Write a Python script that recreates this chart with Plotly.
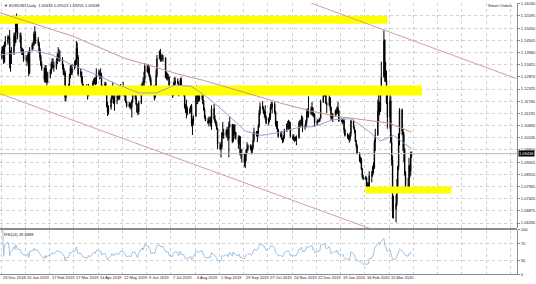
import plotly.graph_objects as go
import pandas as pd

W, H = 536, 284

# ---------------- data (EURUSD daily, weekday bars) ----------------
FIRST_DAY, LAST_DAY = "2018-12-21", "2020-04-10"
FIRST_OPEN = 1.1375
LAST_OPEN = 1.09434

CLOSE = [1.1370,
 1.1405,1.1420,1.1355,1.1430,1.1440,
 1.1466,1.1460,1.1345,1.1390,1.1395,
 1.1470,1.1440,1.1540,1.1500,1.1468,
 1.1470,1.1415,1.1395,1.1390,1.1365,
 1.1365,1.1365,1.1385,1.1305,1.1410,
 1.1430,1.1430,1.1480,1.1445,1.1455,
 1.1435,1.1405,1.1375,1.1340,1.1325,
 1.1275,1.1325,1.1265,1.1295,1.1295,
 1.1310,1.1345,1.1340,1.1335,1.1330,
 1.1360,1.1385,1.1370,1.1370,1.1365,
 1.1340,1.1305,1.1305,1.1195,1.1235,
 1.1245,1.1285,1.1325,1.1305,1.1325,
 1.1340,1.1350,1.1415,1.1375,1.1300,
 1.1310,1.1265,1.1250,1.1225,1.1218,
 1.1215,1.1205,1.1235,1.1220,1.1215,
 1.1260,1.1265,1.1275,1.1255,1.1300,
 1.1305,1.1285,1.1295,1.1235,1.1245,
 1.1255,1.1225,1.1155,1.1130,1.1150,
 1.1185,1.1215,1.1195,1.1170,1.1200,
 1.1200,1.1190,1.1195,1.1215,1.1235,
 1.1225,1.1205,1.1205,1.1175,1.1155,
 1.1165,1.1160,1.1150,1.1180,1.1205,
 1.1195,1.1165,1.1130,1.1130,1.1170,
 1.1240,1.1250,1.1225,1.1275,1.1335,
 1.1310,1.1325,1.1290,1.1275,1.1210,
 1.1220,1.1195,1.1225,1.1295,1.1370,
 1.1400,1.1365,1.1370,1.1370,1.1370,
 1.1285,1.1285,1.1285,1.1285,1.1225,
 1.1215,1.1205,1.1250,1.1255,1.1270,
 1.1260,1.1210,1.1225,1.1275,1.1220,
 1.1210,1.1150,1.1140,1.1145,1.1125,
 1.1140,1.1155,1.1075,1.1085,1.1110,
 1.1200,1.1200,1.1200,1.1180,1.1200,
 1.1215,1.1170,1.1140,1.1105,1.1090,
 1.1080,1.1095,1.1085,1.1080,1.1145,
 1.1100,1.1090,1.1075,1.1055,1.0985,
 1.0965,1.0975,1.1035,1.1035,1.1025,
 1.1045,1.1045,1.1010,1.1065,1.1075,
 1.1000,1.1070,1.1030,1.1040,1.1015,
 1.0990,1.1020,1.0940,1.0940,1.0940,
 1.0900,1.0935,1.0960,1.0965,1.0980,
 1.0970,1.0955,1.0970,1.1005,1.1040,
 1.1030,1.1035,1.1070,1.1125,1.1155,
 1.1150,1.1125,1.1130,1.1105,1.1080,
 1.1100,1.1110,1.1150,1.1150,1.1165,
 1.1130,1.1075,1.1065,1.1050,1.1020,
 1.1030,1.1010,1.1005,1.1020,1.1050,
 1.1075,1.1075,1.1075,1.1055,1.1020,
 1.1010,1.1015,1.1010,1.1010,1.1015,
 1.1080,1.1080,1.1080,1.1105,1.1060,
 1.1065,1.1090,1.1130,1.1130,1.1120,
 1.1145,1.1150,1.1115,1.1120,1.1080,
 1.1090,1.1090,1.1090,1.1100,1.1175,
 1.1200,1.1213,1.1210,1.1170,1.1160,
 1.1195,1.1150,1.1105,1.1105,1.1120,
 1.1135,1.1125,1.1150,1.1135,1.1090,
 1.1095,1.1085,1.1090,1.1050,1.1025,
 1.1020,1.1020,1.1010,1.1035,1.1090,
 1.1060,1.1045,1.1000,1.0980,1.0945,
 1.0910,1.0915,1.0875,1.0840,1.0830,
 1.0835,1.0790,1.0805,1.0790,1.0845,
 1.0850,1.0880,1.0880,1.0995,1.1025,
 1.1135,1.1175,1.1135,1.1240,1.1285,
 1.1450,1.1285,1.1270,1.1175,1.1105,
 1.1180,1.0995,1.0915,1.0690,1.0695,
 1.0720,1.0790,1.0885,1.1030,1.1140,
 1.1045,1.1030,1.0965,1.0855,1.0800,
 1.0795,1.0890,1.0865,1.0943,1.09436]

HIGH = [1.1440,
 1.1420,1.1425,1.1430,1.1445,1.1470,
 1.1475,1.1470,1.1497,1.1405,1.1420,
 1.1485,1.1485,1.1560,1.1570,1.1530,
 1.1485,1.1485,1.1420,1.1415,1.1410,
 1.1385,1.1380,1.1395,1.1400,1.1420,
 1.1440,1.1445,1.1490,1.1514,1.1490,
 1.1465,1.1445,1.1415,1.1385,1.1355,
 1.1330,1.1340,1.1340,1.1310,1.1310,
 1.1320,1.1355,1.1370,1.1370,1.1355,
 1.1370,1.1395,1.1420,1.1410,1.1405,
 1.1375,1.1345,1.1325,1.1315,1.1245,
 1.1255,1.1300,1.1340,1.1340,1.1345,
 1.1360,1.1365,1.1448,1.1440,1.1385,
 1.1325,1.1310,1.1290,1.1255,1.1240,
 1.1255,1.1225,1.1255,1.1245,1.1235,
 1.1270,1.1280,1.1285,1.1285,1.1325,
 1.1320,1.1315,1.1325,1.1305,1.1250,
 1.1265,1.1265,1.1230,1.1175,1.1160,
 1.1195,1.1225,1.1265,1.1200,1.1210,
 1.1210,1.1215,1.1225,1.1235,1.1255,
 1.1265,1.1230,1.1225,1.1210,1.1180,
 1.1175,1.1175,1.1170,1.1185,1.1215,
 1.1215,1.1205,1.1170,1.1145,1.1180,
 1.1255,1.1265,1.1285,1.1310,1.1348,
 1.1340,1.1345,1.1335,1.1300,1.1285,
 1.1235,1.1250,1.1240,1.1320,1.1385,
 1.1405,1.1412,1.1385,1.1390,1.1385,
 1.1375,1.1310,1.1305,1.1300,1.1290,
 1.1235,1.1220,1.1265,1.1285,1.1285,
 1.1280,1.1265,1.1235,1.1282,1.1285,
 1.1230,1.1215,1.1165,1.1185,1.1155,
 1.1150,1.1160,1.1165,1.1100,1.1115,
 1.1215,1.1250,1.1230,1.1225,1.1225,
 1.1230,1.1230,1.1185,1.1150,1.1115,
 1.1105,1.1110,1.1105,1.1110,1.1160,
 1.1165,1.1115,1.1095,1.1085,1.1060,
 1.0995,1.0985,1.1040,1.1085,1.1055,
 1.1055,1.1065,1.1055,1.1087,1.1110,
 1.1040,1.1075,1.1075,1.1075,1.1030,
 1.1025,1.1025,1.1010,1.0960,1.0965,
 1.0945,1.0945,1.0965,1.0995,1.0985,
 1.0985,1.0980,1.0985,1.1035,1.1060,
 1.1045,1.1045,1.1075,1.1140,1.1172,
 1.1179,1.1155,1.1140,1.1160,1.1115,
 1.1105,1.1125,1.1165,1.1175,1.1175,
 1.1175,1.1135,1.1090,1.1090,1.1055,
 1.1040,1.1045,1.1015,1.1025,1.1055,
 1.1080,1.1090,1.1095,1.1090,1.1085,
 1.1030,1.1030,1.1020,1.1020,1.1025,
 1.1090,1.1095,1.1095,1.1115,1.1110,
 1.1075,1.1095,1.1145,1.1145,1.1200,
 1.1155,1.1175,1.1150,1.1125,1.1125,
 1.1095,1.1100,1.1095,1.1105,1.1185,
 1.1215,1.1239,1.1215,1.1225,1.1175,
 1.1205,1.1195,1.1155,1.1115,1.1125,
 1.1140,1.1145,1.1155,1.1175,1.1140,
 1.1100,1.1100,1.1100,1.1100,1.1055,
 1.1035,1.1030,1.1025,1.1040,1.1095,
 1.1095,1.1065,1.1050,1.1005,1.0985,
 1.0950,1.0930,1.0925,1.0880,1.0850,
 1.0845,1.0840,1.0815,1.0815,1.0865,
 1.0865,1.0890,1.0905,1.1005,1.1055,
 1.1185,1.1215,1.1175,1.1245,1.1355,
 1.1495,1.1455,1.1355,1.1315,1.1215,
 1.1235,1.1200,1.1025,1.0935,1.0755,
 1.0760,1.0830,1.0890,1.1035,1.1147,
 1.1145,1.1055,1.1040,1.0965,1.0865,
 1.0835,1.0925,1.0895,1.0953,1.09523]

LOW = [1.1355,
 1.1365,1.1395,1.1345,1.1350,1.1420,
 1.1430,1.1455,1.1325,1.1310,1.1345,
 1.1385,1.1425,1.1440,1.1485,1.1455,
 1.1440,1.1400,1.1385,1.1385,1.1355,
 1.1355,1.1335,1.1350,1.1289,1.1300,
 1.1405,1.1410,1.1425,1.1435,1.1435,
 1.1425,1.1395,1.1360,1.1335,1.1315,
 1.1265,1.1260,1.1260,1.1249,1.1260,
 1.1280,1.1300,1.1320,1.1325,1.1310,
 1.1320,1.1345,1.1360,1.1355,1.1355,
 1.1320,1.1295,1.1290,1.1176,1.1180,
 1.1220,1.1240,1.1280,1.1295,1.1295,
 1.1320,1.1330,1.1340,1.1365,1.1290,
 1.1285,1.1260,1.1240,1.1215,1.1210,
 1.1205,1.1185,1.1200,1.1210,1.1205,
 1.1210,1.1245,1.1255,1.1250,1.1255,
 1.1290,1.1275,1.1280,1.1225,1.1230,
 1.1235,1.1215,1.1150,1.1112,1.1118,
 1.1140,1.1170,1.1190,1.1165,1.1135,
 1.1165,1.1180,1.1185,1.1185,1.1205,
 1.1220,1.1200,1.1180,1.1170,1.1150,
 1.1150,1.1145,1.1140,1.1105,1.1170,
 1.1185,1.1160,1.1125,1.1115,1.1120,
 1.1165,1.1225,1.1215,1.1215,1.1260,
 1.1305,1.1300,1.1285,1.1265,1.1205,
 1.1210,1.1181,1.1190,1.1210,1.1285,
 1.1365,1.1355,1.1355,1.1360,1.1355,
 1.1280,1.1275,1.1270,1.1275,1.1205,
 1.1205,1.1193,1.1200,1.1235,1.1250,
 1.1255,1.1200,1.1205,1.1215,1.1210,
 1.1200,1.1145,1.1125,1.1101,1.1115,
 1.1120,1.1130,1.1065,1.1027,1.1070,
 1.1110,1.1165,1.1165,1.1175,1.1180,
 1.1185,1.1165,1.1135,1.1100,1.1090,
 1.1075,1.1065,1.1080,1.1065,1.1050,
 1.1095,1.1080,1.1065,1.1050,1.0965,
 1.0960,1.0926,1.0965,1.1015,1.1010,
 1.1015,1.1035,1.1000,1.0927,1.1060,
 1.0990,1.0995,1.1025,1.1010,1.1005,
 1.0965,1.0985,1.0935,1.0920,1.0905,
 1.0885,1.0879,1.0910,1.0945,1.0955,
 1.0960,1.0940,1.0945,1.0965,1.0995,
 1.1020,1.0995,1.1020,1.1060,1.1115,
 1.1140,1.1120,1.1105,1.1095,1.1075,
 1.1070,1.1085,1.1095,1.1140,1.1125,
 1.1120,1.1065,1.1055,1.1035,1.1015,
 1.1015,1.1005,1.0990,1.0995,1.1010,
 1.1040,1.1055,1.1050,1.1050,1.1015,
 1.1005,1.1000,1.0995,1.1000,1.0981,
 1.1010,1.1065,1.1065,1.1070,1.1040,
 1.1050,1.1060,1.1075,1.1105,1.1105,
 1.1115,1.1135,1.1110,1.1105,1.1065,
 1.1070,1.1080,1.1085,1.1085,1.1100,
 1.1170,1.1200,1.1205,1.1165,1.1125,
 1.1155,1.1135,1.1095,1.1095,1.1085,
 1.1110,1.1115,1.1120,1.1130,1.1085,
 1.1085,1.1075,1.1080,1.1035,1.1020,
 1.1010,1.1005,1.0992,1.1000,1.1020,
 1.1055,1.1035,1.0995,1.0970,1.0940,
 1.0905,1.0900,1.0870,1.0835,1.0825,
 1.0825,1.0785,1.0785,1.0778,1.0780,
 1.0815,1.0840,1.0855,1.0875,1.0955,
 1.1030,1.1085,1.1115,1.1130,1.1230,
 1.1320,1.1265,1.1265,1.1165,1.1055,
 1.1055,1.0990,1.0890,1.0655,1.0653,
 1.0636,1.0710,1.0770,1.0870,1.0980,
 1.1025,1.0955,1.0905,1.0845,1.0778,
 1.0768,1.0795,1.0835,1.0845,1.09255]

# moving averages
MA200_DATES = ["2018-12-21","2019-01-15","2019-02-15","2019-03-15","2019-04-15","2019-05-15",
               "2019-06-15","2019-07-15","2019-08-15","2019-09-15","2019-10-15","2019-11-15",
               "2019-12-15","2020-01-15","2020-02-15","2020-03-15","2020-04-10"]
MA200_VALUES = [1.1575,1.1545,1.1505,1.1470,1.1420,1.1370,1.1335,1.1300,1.1270,1.1235,
                1.1200,1.1165,1.1135,1.1110,1.1095,1.1080,1.1040]
MA50_DATES = ["2018-12-21","2019-01-10","2019-02-01","2019-02-20","2019-03-15","2019-04-10",
              "2019-05-05","2019-05-31","2019-06-20","2019-07-12","2019-07-31","2019-08-20",
              "2019-09-10","2019-10-01","2019-10-20","2019-11-10","2019-12-01","2019-12-20",
              "2020-01-10","2020-01-31","2020-02-20","2020-03-05","2020-03-20","2020-04-10"]
MA50_VALUES = [1.1385,1.1395,1.1405,1.1385,1.1340,1.1300,1.1255,1.1215,1.1215,1.1250,1.1245,
               1.1190,1.1120,1.1045,1.1025,1.1040,1.1060,1.1065,1.1095,1.1100,1.1045,1.1000,
               1.1025,1.0965]

# drawn channel lines (two anchor points each) and support/resistance zones
UPPER_LINE_DATES = ["2019-12-16", "2020-08-09"]
UPPER_LINE_PRICES = [1.1617, 1.1279]
LOWER_LINE_DATES = ["2018-12-21", "2020-02-23"]
LOWER_LINE_PRICES = [1.1213, 1.0607]
ZONE_X0 = ["2018-12-10", "2018-12-10", "2020-02-17"]
ZONE_X1 = ["2020-03-13", "2020-04-22", "2020-05-26"]
ZONE_LOW = [1.1525, 1.1204, 1.0765]
ZONE_HIGH = [1.1560, 1.1248, 1.0796]

PRICE_TICKS = [1.06330,1.06875,1.07420,1.07965,1.08510,1.09055,1.09600,1.10145,1.10690,
               1.11235,1.11780,1.12325,1.12870,1.13415,1.13960,1.14505,1.15050,1.15595,1.16140]
DATE_TICKS = ["2018-12-23","2019-01-20","2019-02-17","2019-03-17","2019-04-14","2019-05-12",
              "2019-06-09","2019-07-07","2019-08-04","2019-09-01","2019-09-29","2019-10-27",
              "2019-11-24","2019-12-22","2020-01-19","2020-02-16","2020-03-15"]
DATE_LABELS = ["23 Dec 2018","20 Jan 2019","17 Feb 2019","17 Mar 2019","14 Apr 2019","12 May 2019",
               "9 Jun 2019","7 Jul 2019","4 Aug 2019","1 Sep 2019","29 Sep 2019","27 Oct 2019",
               "24 Nov 2019","22 Dec 2019","19 Jan 2020","16 Feb 2020","15 Mar 2020"]
FUTURE_GRID = ["2020-04-12","2020-05-10","2020-06-07","2020-07-05","2020-08-02"]
RSI_TICKS = [0, 30, 70, 100]
X_RANGE = ["2018-12-21 20:00", "2020-08-09 17:00"]
Y_RANGE = [1.0611, 1.16175]

# ---------------- build ----------------
DATES = pd.bdate_range(FIRST_DAY, LAST_DAY)
n = len(DATES)
assert len(CLOSE) == n and len(HIGH) == n and len(LOW) == n, (n, len(CLOSE), len(HIGH), len(LOW))
OPEN = [FIRST_OPEN] + CLOSE[:-1]
OPEN[-1] = LAST_OPEN
HI = [max(h, o, c) for h, o, c in zip(HIGH, OPEN, CLOSE)]
LO = [min(l, o, c) for l, o, c in zip(LOW, OPEN, CLOSE)]

c = pd.Series(CLOSE)
d = c.diff().fillna(0.0)
up = d.clip(lower=0).ewm(alpha=1/14, adjust=True).mean()
dn = (-d.clip(upper=0)).ewm(alpha=1/14, adjust=True).mean()
rsi = 100 - 100 / (1 + up / dn)

FONT = "Liberation Sans"
px_y = lambda p: 1 - p / H
px_x = lambda p: p / W
XR = 519 / W

fig = go.Figure()
# yellow zones as filled traces (drawn first, under everything)
for x0, x1, lo, hi in zip(ZONE_X0, ZONE_X1, ZONE_LOW, ZONE_HIGH):
    fig.add_trace(go.Scatter(x=[x0, x1, x1, x0, x0], y=[lo, lo, hi, hi, lo], mode="lines",
                             fill="toself", fillcolor="#ffff00", line=dict(width=0, color="#ffff00"),
                             xaxis="x", yaxis="y", hoverinfo="skip"))
# bid line
fig.add_trace(go.Scatter(x=X_RANGE, y=[CLOSE[-1], CLOSE[-1]], mode="lines",
                         line=dict(color="#b8b8b8", width=1), xaxis="x", yaxis="y", hoverinfo="skip"))
fig.add_trace(go.Candlestick(
    x=DATES, open=OPEN, high=HI, low=LO, close=CLOSE,
    increasing=dict(line=dict(color="black", width=1), fillcolor="white"),
    decreasing=dict(line=dict(color="black", width=1), fillcolor="black"),
    whiskerwidth=0, xaxis="x", yaxis="y", hoverinfo="skip"))
fig.add_trace(go.Scatter(x=MA200_DATES, y=MA200_VALUES, mode="lines",
                         line=dict(color="#c49a8e", width=1), xaxis="x", yaxis="y"))
fig.add_trace(go.Scatter(x=MA50_DATES, y=MA50_VALUES, mode="lines",
                         line=dict(color="#9c9cd0", width=1), xaxis="x", yaxis="y"))
fig.add_trace(go.Scatter(x=UPPER_LINE_DATES, y=UPPER_LINE_PRICES, mode="lines",
                         line=dict(color="#d4a09a", width=1), xaxis="x", yaxis="y"))
fig.add_trace(go.Scatter(x=LOWER_LINE_DATES, y=LOWER_LINE_PRICES, mode="lines",
                         line=dict(color="#d4a09a", width=1), xaxis="x", yaxis="y"))
fig.add_trace(go.Scatter(x=DATES[1:], y=rsi[1:], mode="lines",
                         line=dict(color="#9ec2e2", width=1), xaxis="x2", yaxis="y2"))

shapes = [dict(type="line", xref="paper", yref="paper", x0=0, x1=XR,
               y0=px_y(230), y1=px_y(230), line=dict(color="#8c8c8c", width=2), layer="above")]

ann = []
for dt, lab in zip(DATE_TICKS, DATE_LABELS):
    ann.append(dict(x=dt, xref="x2", y=px_y(279.5), yref="paper", text=lab, showarrow=False,
                    xanchor="left", yanchor="middle", font=dict(size=4, color="#222", family=FONT)))
ann.append(dict(x=px_x(2), xref="paper", y=px_y(3), yref="paper", showarrow=False,
                xanchor="left", yanchor="middle",
                text="▼ EURUSD,Daily  1.09434 1.09523 1.09255 1.09436",
                font=dict(size=4, color="#222", family=FONT)))
ann.append(dict(x=px_x(516), xref="paper", y=px_y(3), yref="paper", showarrow=False,
                xanchor="right", yanchor="middle", text="Smart Orders",
                font=dict(size=4, color="#222", family=FONT)))
ann.append(dict(x=px_x(2), xref="paper", y=px_y(235.5), yref="paper", showarrow=False,
                xanchor="left", yanchor="middle", text=f"RSI(14) {rsi.iloc[-1]:.4f}",
                font=dict(size=4, color="#222", family=FONT)))
ann.append(dict(x=XR + 0.002, xref="paper", y=CLOSE[-1], yref="y", showarrow=False,
                xanchor="left", yanchor="middle", text=f"{CLOSE[-1]:.5f}", bgcolor="black",
                borderpad=0, font=dict(size=4, color="white", family=FONT)))

grid = dict(showgrid=True, gridcolor="#d0d0d0", griddash="dot", gridwidth=1)
fig.update_layout(
    width=W, height=H, autosize=False, margin=dict(l=0, r=0, t=0, b=0),
    paper_bgcolor="white", plot_bgcolor="white", showlegend=False,
    font=dict(family=FONT, size=4, color="#222"),
    shapes=shapes, annotations=ann,
    xaxis=dict(domain=[0, XR], range=X_RANGE, type="date", anchor="y",
               tickmode="array", tickvals=DATE_TICKS + FUTURE_GRID, showticklabels=False,
               rangeslider=dict(visible=False), zeroline=False, **grid),
    xaxis2=dict(domain=[0, XR], range=X_RANGE, type="date", anchor="y2", matches="x",
                tickmode="array", tickvals=DATE_TICKS + FUTURE_GRID, showticklabels=False,
                showline=True, linecolor="#8c8c8c", zeroline=False, **grid),
    yaxis=dict(domain=[px_y(229), 1], range=Y_RANGE, side="right", anchor="x",
               tickmode="array", tickvals=PRICE_TICKS, ticktext=[f"{v:.5f}" for v in PRICE_TICKS],
               ticks="outside", ticklen=2, tickcolor="#8c8c8c", showline=True, linecolor="#8c8c8c",
               tickfont=dict(size=4, family=FONT, color="#222"), zeroline=False, **grid),
    yaxis2=dict(domain=[px_y(276), px_y(231)], range=[0, 100], side="right", anchor="x2",
                tickmode="array", tickvals=RSI_TICKS, ticks="outside", ticklen=2,
                tickcolor="#8c8c8c", showline=True, linecolor="#8c8c8c",
                tickfont=dict(size=4, family=FONT, color="#222"), zeroline=False, **grid),
)

fig.write_html("out.html")
